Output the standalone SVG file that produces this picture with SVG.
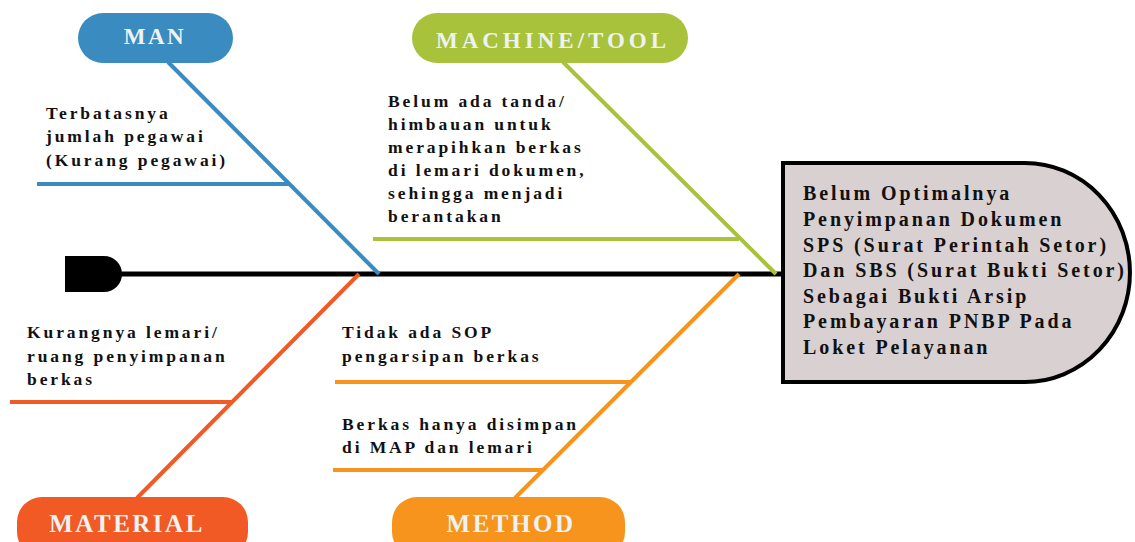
<svg xmlns="http://www.w3.org/2000/svg" width="1135" height="542" viewBox="0 0 1135 542">
<style>
.lbl{font-family:"Liberation Serif",serif;font-weight:bold;font-size:22px;letter-spacing:2.5px;fill:#eef2f3;text-anchor:middle}
.txt{font-family:"Liberation Serif",serif;font-weight:bold;font-size:17.5px;letter-spacing:2.9px;fill:#111}
.eff{font-family:"Liberation Serif",serif;font-weight:bold;font-size:20px;letter-spacing:2.9px;fill:#111}
.man{stroke:#3a8bbf}
.mac{stroke:#a8c23c}
.mat{stroke:#f15a24}
.met{stroke:#f7941d}
line{stroke-width:4;fill:none}
</style>
<rect width="1135" height="542" fill="#fff"/>
<g id="connectors">
<line x1="120" y1="274" x2="786" y2="274" stroke="#000" style="stroke-width:5"/>
<line class="man" x1="168" y1="62" x2="379" y2="274"/>
<line class="man" x1="37" y1="184" x2="289" y2="184"/>
<line class="mac" x1="563" y1="62" x2="776" y2="274"/>
<line class="mac" x1="373" y1="239" x2="739" y2="239"/>
<line class="mat" x1="137" y1="498" x2="359" y2="274"/>
<line class="mat" x1="10" y1="402" x2="233" y2="402"/>
<line class="met" x1="515" y1="498" x2="739" y2="274"/>
<line class="met" x1="335" y1="382" x2="632" y2="382"/>
<line class="met" x1="333" y1="470" x2="543" y2="470"/>
</g>
<g id="tail">
<path d="M65,256 H104 A18,18 0 0 1 122,274 A18,18 0 0 1 104,292 H65 Z" fill="#000"/>
</g>
<g id="man">
<rect x="78" y="13" width="155" height="50" rx="25" fill="#3a8bbf"/>
<text class="lbl" x="155" y="44" style="font-size:23px">MAN</text>
</g>
<g id="machine">
<rect x="412" y="13" width="276" height="50" rx="25" fill="#a8c23c"/>
<text class="lbl" x="553" y="48" style="font-size:23px;letter-spacing:4px">MACHINE/TOOL</text>
</g>
<g id="material">
<rect x="17" y="497" width="231" height="60" rx="25" fill="#f15a24"/>
<text class="lbl" x="127" y="532" style="font-size:25px">MATERIAL</text>
</g>
<g id="method">
<rect x="392" y="497" width="233" height="60" rx="25" fill="#f7941d"/>
<text class="lbl" x="511" y="532" style="font-size:25px">METHOD</text>
</g>
<g id="cause-man">
<text class="txt" x="46" y="119">Terbatasnya</text>
<text class="txt" x="46" y="142">jumlah pegawai</text>
<text class="txt" x="46" y="166">(Kurang pegawai)</text>
</g>
<g id="cause-machine">
<text class="txt" x="388" y="107">Belum ada tanda/</text>
<text class="txt" x="388" y="130">himbauan untuk</text>
<text class="txt" x="388" y="153">merapihkan berkas</text>
<text class="txt" x="388" y="176">di lemari dokumen,</text>
<text class="txt" x="388" y="199">sehingga menjadi</text>
<text class="txt" x="388" y="222">berantakan</text>
</g>
<g id="cause-material">
<text class="txt" x="27" y="338">Kurangnya lemari/</text>
<text class="txt" x="27" y="362">ruang penyimpanan</text>
<text class="txt" x="27" y="385">berkas</text>
</g>
<g id="cause-method">
<text class="txt" x="342" y="338">Tidak ada SOP</text>
<text class="txt" x="342" y="362">pengarsipan berkas</text>
<text class="txt" x="342" y="430">Berkas hanya disimpan</text>
<text class="txt" x="342" y="453">di MAP dan lemari</text>
</g>
<g id="effect">
<path d="M783,163 H1025 A105,109.5 0 0 1 1025,382 H783 Z" fill="#d9d0d1" stroke="#000" stroke-width="4"/>
<text class="eff" x="803" y="200">Belum Optimalnya</text>
<text class="eff" x="803" y="226">Penyimpanan Dokumen</text>
<text class="eff" x="803" y="252">SPS (Surat Perintah Setor)</text>
<text class="eff" x="803" y="277">Dan SBS (Surat Bukti Setor)</text>
<text class="eff" x="803" y="303">Sebagai Bukti Arsip</text>
<text class="eff" x="803" y="328">Pembayaran PNBP Pada</text>
<text class="eff" x="803" y="354">Loket Pelayanan</text>
</g>
</svg>
